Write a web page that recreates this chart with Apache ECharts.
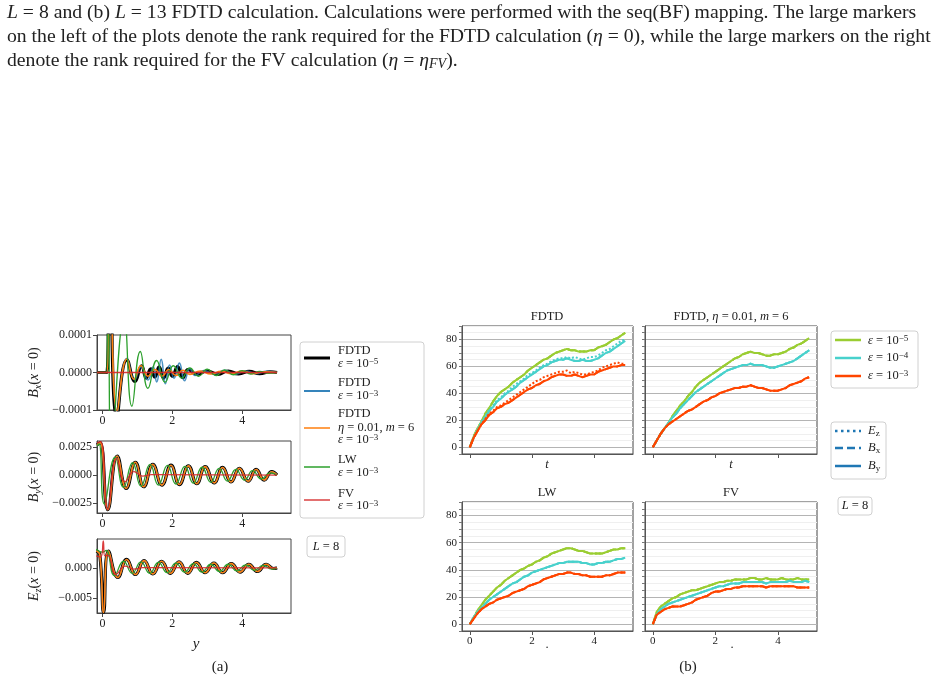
<!DOCTYPE html>
<html>
<head>
<meta charset="utf-8">
<script src="https://cdn.jsdelivr.net/npm/echarts@6/dist/echarts.min.js"></script>
<style>
html, body { margin: 0; padding: 0; background: #fff; }
#chart { width: 948px; height: 681px; }
</style>
</head>
<body>
<div id="chart"></div>
<script>
const SERIF = "'Liberation Serif', 'DejaVu Serif', serif";

// ---- panel (a): fields at x = 0, [y, value] read at the extrema of each curve
const bxFdtd5 = [[-0.16,0],[0.12,0],[0.2,4e-4],[0.41,-1.2e-4],[0.7,3.4e-5],[0.93,-2.4e-5],[1.12,1.8e-5],[1.25,-1.5e-5],[1.38,1e-5],[1.5,-1.2e-5],[1.62,1.5e-5],[1.75,-1.5e-5],[1.88,1.2e-5],[2.0,-1e-5],[2.15,1.6e-5],[2.3,-1.4e-5],[2.45,8e-6],[2.7,-5e-6],[3.0,4e-6],[3.3,-5e-6],[3.6,4e-6],[3.9,-4e-6],[4.2,3e-6],[4.5,-3e-6],[4.8,2e-6],[5.0,0]];
const bxFdtd3 = [[-0.16,0],[0.12,0],[0.2,4e-4],[0.42,-1.1e-4],[0.7,3.8e-5],[0.92,-2e-5],[1.1,1.5e-5],[1.3,-2e-5],[1.45,1.5e-5],[1.55,-2.5e-5],[1.68,3.5e-5],[1.8,-3e-5],[1.92,2e-5],[2.05,-1.5e-5],[2.2,2.5e-5],[2.35,-2.2e-5],[2.5,1e-5],[2.65,-8e-6],[2.9,5e-6],[3.2,-4e-6],[3.5,6e-6],[3.8,-5e-6],[4.1,4e-6],[4.4,-3e-6],[4.7,3e-6],[5.0,0]];
const bxFdtdEta = [[-0.16,0],[0.12,0],[0.2,4e-4],[0.42,-1.05e-4],[0.7,3.6e-5],[0.9,-1.8e-5],[1.1,1.8e-5],[1.3,-1e-5],[1.5,8e-6],[1.7,-1e-5],[1.9,8e-6],[2.1,-8e-6],[2.3,6e-6],[2.5,-5e-6],[2.8,4e-6],[3.1,-4e-6],[3.4,3e-6],[3.7,-3e-6],[4.0,4e-6],[4.3,-3e-6],[4.6,2e-6],[5.0,0]];
const bxLw = [[-0.16,0],[0.1,0],[0.16,3e-4],[0.25,-2.5e-4],[0.62,1.5e-4],[0.84,-9e-5],[1.08,5.6e-5],[1.3,-4.2e-5],[1.55,3.2e-5],[1.79,-2.6e-5],[2.03,1.8e-5],[2.27,-1.5e-5],[2.5,1.2e-5],[2.75,-1e-5],[3.0,9e-6],[3.25,-8e-6],[3.5,7e-6],[3.75,-6e-6],[4.0,5e-6],[4.25,-4e-6],[4.5,3e-6],[4.75,-2e-6],[5.0,0]];
const bxFv = [[-0.16,0],[5.0,0]];

const byFdtd = [[-0.16,0.0027],[-0.07,0.0029],[0.15,-0.0031],[0.42,0.0017],[0.68,-0.0012],[0.94,0.00114],[1.18,-0.00105],[1.44,0.00096],[1.7,-0.0009],[1.96,0.00088],[2.2,-0.00085],[2.46,0.00082],[2.7,-0.00078],[2.94,0.00075],[3.2,-0.0007],[3.44,0.00068],[3.68,-0.00062],[3.92,0.0006],[4.17,-0.00055],[4.4,0.0005],[4.63,-0.00045],[4.85,0.0003],[5.0,0]];
const byLw = [[-0.16,0.0026],[-0.1,0.0028],[0.05,-0.0026],[0.36,0.0016],[0.6,-0.0011],[0.86,0.0011],[1.1,-0.001],[1.36,0.00095],[1.6,-0.0009],[1.86,0.00086],[2.1,-0.0008],[2.36,0.00078],[2.6,-0.00072],[2.85,0.0007],[3.1,-0.00065],[3.34,0.0006],[3.58,-0.00055],[3.82,0.0005],[4.07,-0.00045],[4.3,0.0004],[4.55,-0.00035],[4.8,0.0002],[5.0,0]];
const byFv = [[-0.16,0.0029],[-0.05,0.003],[0.15,-0.0031],[0.4,0.0015],[0.64,-0.0006],[0.9,0.0003],[1.15,-0.0001],[1.4,0.00003],[5.0,0]];

const ezFdtd = [[-0.18,0.0028],[-0.08,0.0022],[0.03,-0.0074],[0.17,0.0028],[0.44,-0.0016],[0.69,0.0014],[0.94,-0.0011],[1.19,0.0012],[1.44,-0.001],[1.69,0.0011],[1.94,-0.0009],[2.19,0.001],[2.44,-0.0009],[2.69,0.0009],[2.94,-0.0008],[3.19,0.0008],[3.44,-0.0008],[3.69,0.0007],[3.94,-0.0007],[4.19,0.0006],[4.44,-0.0006],[4.69,0.0006],[4.9,-0.0001],[5.0,0]];
const ezLw = [[-0.18,0.0031],[0.0,0.0026],[0.1,0.0029],[0.34,-0.0013],[0.6,0.0011],[0.85,-0.0009],[1.1,0.001],[1.35,-0.0009],[1.6,0.0009],[1.85,-0.0008],[2.1,0.0008],[2.35,-0.0007],[2.6,0.0007],[2.85,-0.0007],[3.1,0.0006],[3.35,-0.0006],[3.6,0.0006],[3.85,-0.0005],[4.1,0.0005],[4.35,-0.0004],[4.6,0.0004],[4.85,-0.0002],[5.0,0]];
const ezFv = [[-0.18,0.002],[-0.05,0.0018],[0.02,0.0045],[0.06,0.002],[0.15,0.0021],[0.38,-0.0011],[0.65,0.0003],[0.9,-0.0002],[1.15,0.00005],[5.0,0]];

// ---- panel (b): rank versus t
const tGrid = [0,0.125,0.25,0.375,0.5,0.625,0.75,0.875,1,1.125,1.25,1.375,1.5,1.625,1.75,1.875,2,2.125,2.25,2.375,2.5,2.625,2.75,2.875,3,3.125,3.25,3.375,3.5,3.625,3.75,3.875,4,4.125,4.25,4.375,4.5,4.625,4.75,4.875,5];
const fdtdE5 = [0,8,14,19,25,29,34,38,41,43,45,48,50,52,54,57,59,61,63,65,66,68,70,71,72,73,72,72,71,71,71,72,72,74,75,76,78,80,81,83,85];
const fdtdE4 = [0,7,13,18,22,27,30,34,36,39,41,43,45,48,50,52,54,56,58,60,61,63,64,65,65,66,65,64,64,65,64,64,65,66,68,70,71,73,75,77,79];
const fdtdE4Ez = [0,7,13,19,23,28,31,35,37,40,42,45,47,49,51,54,55,57,59,61,62,64,65,66,66,67,66,67,66,65,66,67,67,68,70,72,73,75,77,79,80];
const fdtdE3 = [0,7,12,17,20,24,26,29,30,32,33,35,37,39,41,43,44,46,47,49,50,52,53,54,54,53,53,54,53,52,53,54,54,56,57,58,59,60,60,61,61];
const fdtdE3Ez = [0,7,12,17,21,25,27,30,31,33,35,37,39,41,43,45,47,49,50,52,53,54,55,56,56,57,55,56,55,54,54,55,56,57,59,60,61,62,63,62,62];
const etaE5 = [0,5,10,14,18,23,27,31,34,38,41,45,48,50,52,54,56,58,60,62,64,66,67,69,70,71,70,70,69,68,68,69,69,70,71,73,74,76,77,79,81];
const etaE4 = [0,5,10,14,18,22,25,29,32,35,38,41,43,45,47,49,51,53,55,57,58,59,60,61,61,62,61,61,61,60,59,59,60,61,62,63,64,66,68,70,72];
const etaE3 = [0,5,10,14,17,19,21,23,25,27,28,30,32,34,35,37,38,40,41,42,43,44,44,45,45,46,45,44,44,43,42,42,42,43,44,46,47,48,49,51,52];
const lwE5 = [0,5,10,14,18,21,24,27,29,32,34,36,38,40,41,43,44,46,47,49,50,52,53,54,55,56,56,55,54,54,53,52,52,52,52,53,54,55,55,56,56];
const lwE4 = [0,5,9,12,15,18,20,22,24,26,28,30,31,33,35,36,38,39,40,41,42,43,44,45,45,46,46,46,46,45,45,44,44,45,45,46,46,47,48,48,49];
const lwE3 = [0,4,8,11,13,15,16,18,19,20,21,23,24,25,26,28,29,30,31,33,34,35,36,37,37,38,38,37,37,36,36,35,35,35,35,36,36,37,38,38,38];
const fvE5 = [0,9,13,15,17,19,20,22,23,24,25,25,26,27,28,29,30,31,31,32,32,33,33,33,33,34,34,33,33,34,33,33,33,34,33,33,33,34,33,33,33];
const fvE4 = [0,7,11,13,15,16,17,18,19,20,21,22,23,24,25,26,27,28,28,29,30,30,30,31,31,31,31,31,31,30,31,31,31,31,31,32,31,31,31,32,31];
const fvE3 = [0,7,9,11,12,13,13,13,14,15,16,18,19,20,21,23,24,24,25,26,26,27,27,28,28,28,28,28,28,27,28,28,28,28,28,28,28,27,27,27,27];

const rankTicks = [0, 20, 40, 60, 80];
const tTicks = [0, 2, 4];

const C_GREEN = '#9acd32', C_TEAL = '#48d1cc', C_RED = '#ff4500', C_FIELD = '#1f77b4';

const chart = echarts.init(document.getElementById('chart'));

const baseRich = {
  n: { fontFamily: SERIF, fontSize: 12.5, lineHeight: 14, color: '#222' },
  i: { fontFamily: SERIF, fontSize: 12.5, lineHeight: 14, fontStyle: 'italic', color: '#222' },
  sup: { fontFamily: SERIF, fontSize: 9, lineHeight: 9, verticalAlign: 'top', color: '#222' },
  sub: { fontFamily: SERIF, fontSize: 9, lineHeight: 9, verticalAlign: 'bottom', color: '#222' }
};

function fmt(d) {
  return v => (v < 0 ? '\u2212' : '') + Math.abs(v).toFixed(d);
}

const grids = [
  { left: 97, top: 335, width: 194, height: 75 },
  { left: 97, top: 441, width: 194, height: 72 },
  { left: 97, top: 539, width: 194, height: 74 },
  { left: 462, top: 326, width: 171, height: 128 },
  { left: 645, top: 326, width: 172, height: 128 },
  { left: 462, top: 502, width: 171, height: 129 },
  { left: 645, top: 502, width: 172, height: 129 }
].map(g => Object.assign({ show: true, borderColor: '#444', borderWidth: 1, containLabel: false, outerBoundsMode: 'none' }, g));

const xAxes = [];
const yAxes = [];

// panel (a) axes
const aY = [
  { min: -0.0001, max: 0.0001, ticks: [-0.0001, 0, 0.0001], d: 4, name: '{i|B}{sub|x}{n|(}{i|x}{n| = 0)}' },
  { min: -0.0034, max: 0.00305, ticks: [-0.0025, 0, 0.0025], d: 4, name: '{i|B}{sub|y}{n|(}{i|x}{n| = 0)}' },
  { min: -0.0075, max: 0.0048, ticks: [-0.005, 0], d: 3, name: '{i|E}{sub|z}{n|(}{i|x}{n| = 0)}' }
];
aY.forEach((a, k) => {
  xAxes.push({
    gridIndex: k, type: 'value', min: -0.16, max: 5.4,
    axisLine: { show: true, onZero: false, lineStyle: { color: '#444' } },
    axisTick: { show: true, length: 4, customValues: tTicks, lineStyle: { color: '#444' } },
    axisLabel: { customValues: tTicks, fontFamily: SERIF, fontSize: 12, color: '#222', margin: 5 },
    splitLine: { show: false }
  });
  yAxes.push({
    gridIndex: k, type: 'value', min: a.min, max: a.max,
    axisLine: { show: true, onZero: false, lineStyle: { color: '#444' } },
    axisTick: { show: true, length: 4, customValues: a.ticks, lineStyle: { color: '#444' } },
    axisLabel: { customValues: a.ticks, formatter: fmt(a.d), fontFamily: SERIF, fontSize: 12, color: '#222', margin: 5 },
    splitLine: { show: false },
    name: a.name, nameLocation: 'middle', nameRotate: 90, nameGap: 54,
    nameTextStyle: {
      rich: {
        n: { fontFamily: SERIF, fontSize: 14, lineHeight: 17, color: '#222' },
        i: { fontFamily: SERIF, fontSize: 14, lineHeight: 17, fontStyle: 'italic', color: '#222' },
        sub: { fontFamily: SERIF, fontSize: 10, lineHeight: 10, verticalAlign: 'bottom', fontStyle: 'italic', color: '#222' }
      }
    }
  });
});

// panel (b) axes
for (let k = 3; k < 7; k++) {
  const bottomRow = k >= 5;
  const leftCol = k === 3 || k === 5;
  xAxes.push({
    gridIndex: k, type: 'value', min: -0.25, max: 5.25,
    axisLine: { show: true, onZero: false, lineStyle: { color: '#555' } },
    axisTick: { show: true, length: 4, customValues: tTicks, lineStyle: { color: '#555' } },
    axisLabel: { show: bottomRow, customValues: tTicks, fontFamily: SERIF, fontSize: 11, color: '#222', margin: 5 },
    splitLine: { show: false }
  });
  yAxes.push({
    gridIndex: k, type: 'value', min: -5, max: 90, interval: 5,
    axisLine: { show: true, onZero: false, lineStyle: { color: '#555' } },
    axisTick: { show: true, length: 3, lineStyle: { color: '#777' } },
    axisLabel: { show: leftCol, customValues: rankTicks, fontFamily: SERIF, fontSize: 11, color: '#222', margin: 5 },
    splitLine: { show: true, lineStyle: { color: ['#efefef', '#b4b4b4', '#efefef', '#efefef'], width: 1 } }
  });
}

const series = [];
function wave(data, color, width, gi, opacity) {
  series.push({
    type: 'line', xAxisIndex: gi, yAxisIndex: gi, data: data, showSymbol: false, smooth: 0.5,
    lineStyle: { color: color, width: width, opacity: opacity || 1 }, silent: true, animation: false
  });
}
[[bxFdtd5, bxFdtd3, bxFdtdEta, bxLw, bxFv],
 [byFdtd, byFdtd, byFdtd, byLw, byFv],
 [ezFdtd, ezFdtd, ezFdtd, ezLw, ezFv]].forEach((set, gi) => {
  wave(set[0], '#000000', 3.2, gi);
  wave(set[1], C_FIELD, 1.6, gi, 0.8);
  wave(set[2], '#ff7f0e', 1.6, gi);
  wave(set[3], '#2ca02c', 1.3, gi);
  wave(set[4], '#d62728', 1.3, gi, 0.9);
});

function rank(vals, color, type, gi) {
  series.push({
    type: 'line', xAxisIndex: gi, yAxisIndex: gi, data: tGrid.map((t, i) => [t, vals[i]]), showSymbol: false,
    lineStyle: { color: color, width: 2, type: type }, silent: true, animation: false
  });
}
const rankSets = [
  [3, [fdtdE5, fdtdE5], [fdtdE4, fdtdE4Ez], [fdtdE3, fdtdE3Ez]],
  [4, [etaE5, etaE5], [etaE4, etaE4], [etaE3, etaE3]],
  [5, [lwE5, lwE5], [lwE4, lwE4], [lwE3, lwE3]],
  [6, [fvE5, fvE5], [fvE4, fvE4], [fvE3, fvE3]]
];
rankSets.forEach(s => {
  const gi = s[0];
  const cols = [C_GREEN, C_TEAL, C_RED];
  for (let c = 0; c < 3; c++) {
    rank(s[c + 1][1], cols[c], 'dotted', gi);   // E_z
    rank(s[c + 1][0], cols[c], 'dashed', gi);   // B_x
    rank(s[c + 1][0], cols[c], 'solid', gi);    // B_y
  }
});

// ---- text, legends
const graphic = [];
function txt(x, y, text, opts) {
  opts = opts || {};
  graphic.push({
    type: 'text', x: x, y: y, silent: true,
    style: Object.assign({
      text: text, fill: '#222', align: 'left', verticalAlign: 'middle',
      font: (opts.size || 12) + 'px ' + SERIF, rich: opts.rich || baseRich
    }, opts.style || {})
  });
}
function box(x, y, w, h) {
  graphic.push({ type: 'rect', silent: true, shape: { x: x, y: y, width: w, height: h, r: 3 }, style: { fill: '#fff', stroke: '#d0d0d0', lineWidth: 1 } });
}
function sample(x1, x2, y, color, width, dash) {
  graphic.push({ type: 'line', silent: true, shape: { x1: x1, y1: y, x2: x2, y2: y }, style: { stroke: color, lineWidth: width, lineDash: dash || null } });
}

const capRich = {
  n: { fontFamily: SERIF, fontSize: 19.7, color: '#111' },
  i: { fontFamily: SERIF, fontSize: 19.7, fontStyle: 'italic', color: '#111' },
  sub: { fontFamily: SERIF, fontSize: 14, fontStyle: 'italic', verticalAlign: 'bottom', color: '#111' }
};
txt(7, 13, '{i|L}{n| = 8 and (b) }{i|L}{n| = 13 FDTD calculation. Calculations were performed with the seq(BF) mapping. The large markers}', { rich: capRich });
txt(7, 37, '{n|on the left of the plots denote the rank required for the FDTD calculation (}{i|\u03b7}{n| = 0), while the large markers on the right}', { rich: capRich });
txt(7, 61, '{n|denote the rank required for the FV calculation (}{i|\u03b7}{n| = }{i|\u03b7}{sub|FV}{n|).}', { rich: capRich });

// legend (a)
box(300, 342, 124, 176);
const eps = e => '{i|\u03b5}{n| = 10}{sup|\u2212' + e + '}';
sample(304, 330, 358, '#000000', 3);
txt(338, 351, '{n|FDTD}'); txt(338, 364, eps(5));
sample(304, 330, 391, C_FIELD, 1.8);
txt(338, 383, '{n|FDTD}'); txt(338, 396, eps(3));
sample(304, 330, 428, '#ff7f0e', 1.5);
txt(338, 414, '{n|FDTD}'); txt(338, 428, '{i|\u03b7}{n| = 0.01, }{i|m}{n| = 6}'); txt(338, 440, eps(3));
sample(304, 330, 467, '#2ca02c', 1.5);
txt(338, 460, '{n|LW}'); txt(338, 473, eps(3));
sample(304, 330, 500, '#e06060', 1.8);
txt(338, 494, '{n|FV}'); txt(338, 506, eps(3));

box(307, 536, 38, 21);
txt(326, 546.5, '{i|L}{n| = 8}', { style: { align: 'center' } });

// legend (b)
box(831, 331, 87, 57);
sample(835, 861, 340, C_GREEN, 2.5); txt(868, 341, eps(5));
sample(835, 861, 358, C_TEAL, 2.5); txt(868, 358, eps(4));
sample(835, 861, 376, C_RED, 2.5); txt(868, 376, eps(3));

box(831, 422, 55, 57);
sample(835, 861, 431, C_FIELD, 2.5, [2.5, 3.5]); txt(868, 431, '{i|E}{sub|z}');
sample(835, 861, 448, C_FIELD, 2.5, [8, 4]); txt(868, 448, '{i|B}{sub|x}');
sample(835, 861, 466, C_FIELD, 2.5); txt(868, 466, '{i|B}{sub|y}');

box(838, 497, 34, 18);
txt(855, 506, '{i|L}{n| = 8}', { style: { align: 'center' } });

// titles and axis names in (b)
const tRich = {
  n: { fontFamily: SERIF, fontSize: 12.5, color: '#222' },
  i: { fontFamily: SERIF, fontSize: 12.5, fontStyle: 'italic', color: '#222' }
};
txt(547, 317, '{n|FDTD}', { rich: tRich, style: { align: 'center' } });
txt(731, 317, '{n|FDTD, }{i|\u03b7}{n| = 0.01, }{i|m}{n| = 6}', { rich: tRich, style: { align: 'center' } });
txt(547, 493, '{n|LW}', { rich: tRich, style: { align: 'center' } });
txt(731, 493, '{n|FV}', { rich: tRich, style: { align: 'center' } });
txt(547, 465, '{i|t}', { style: { align: 'center' } });
txt(731, 465, '{i|t}', { style: { align: 'center' } });
txt(547, 648, '{n|\u00b7}', { style: { align: 'center' } });
txt(732, 648, '{n|\u00b7}', { style: { align: 'center' } });

const labRich = {
  n: { fontFamily: SERIF, fontSize: 15, color: '#222' },
  i: { fontFamily: SERIF, fontSize: 15, fontStyle: 'italic', color: '#222' }
};
txt(196, 644, '{i|y}', { rich: labRich, style: { align: 'center' } });
txt(220, 667, '{n|(a)}', { rich: labRich, style: { align: 'center' } });
txt(688, 667, '{n|(b)}', { rich: labRich, style: { align: 'center' } });

chart.setOption({
  animation: false,
  backgroundColor: '#ffffff',
  grid: grids,
  xAxis: xAxes,
  yAxis: yAxes,
  series: series,
  graphic: graphic
});
</script>
</body>
</html>
